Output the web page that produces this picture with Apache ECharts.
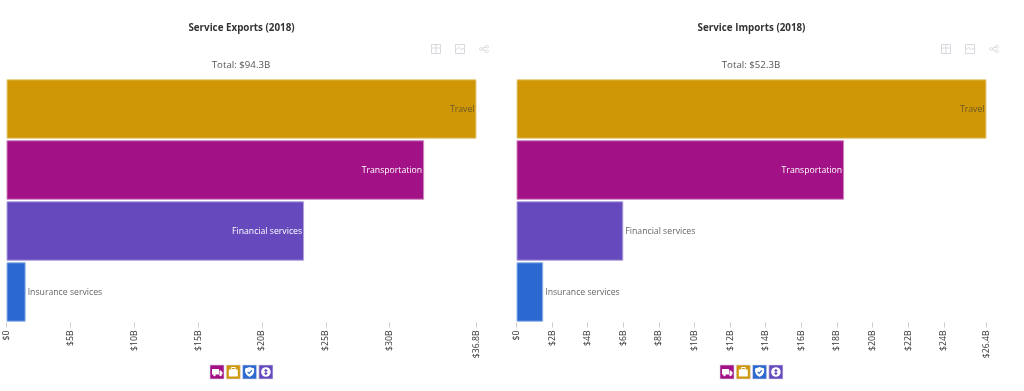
<!DOCTYPE html>
<html>
<head>
<meta charset="utf-8">
<title>Service Exports and Imports (2018)</title>
<script src="https://cdn.jsdelivr.net/npm/echarts@6/dist/echarts.min.js"></script>
<style>
    html, body { margin: 0; padding: 0; background: #fff; }
    .charts { width: 1024px; height: 391px; position: relative; overflow: hidden; }
    .chart { position: absolute; top: 0; width: 510px; height: 391px; }
</style>
</head>
<body>
<div class="charts">
    <div class="chart" id="exports" style="left: 0"></div>
    <div class="chart" id="imports" style="left: 510px"></div>
</div>
<script>
const categories = ['Travel', 'Transportation', 'Financial services', 'Insurance services'];
const barColors = ['#cf9605', '#a21185', '#6549bd', '#2b68cf'];
const barBorders = ['#e6cd85', '#cf86c0', '#b2a4de', '#93b3e7'];

const exportValues = [36.8, 32.7, 23.3, 1.5];
const importValues = [26.4, 18.4, 6.0, 1.5];
const exportTicks = [0, 5, 10, 15, 20, 25, 30, 36.8];
const importTicks = [0, 2, 4, 6, 8, 10, 12, 14, 16, 18, 20, 22, 24, 26.4];

const fontName = '"Open Sans", sans-serif';

// legend squares, same order as the original: truck, briefcase, shield, dollar
const legendColors = ['#a21185', '#cf9605', '#2b68cf', '#6549bd'];

function glyph(i, color) {
    const white = { fill: '#fff' };
    if (i === 0) {
        return [
            { type: 'rect', shape: { x: 2, y: 4, width: 7, height: 5.5 }, style: white },
            { type: 'polygon', shape: { points: [[9.5, 5.5], [11, 5.5], [12.5, 7.5], [12.5, 9.5], [9.5, 9.5]] }, style: white },
            { type: 'circle', shape: { cx: 4.5, cy: 10, r: 1.2 }, style: white },
            { type: 'circle', shape: { cx: 10.5, cy: 10, r: 1.2 }, style: white }
        ];
    }
    if (i === 1) {
        return [
            { type: 'rect', shape: { x: 5, y: 2.5, width: 4, height: 2 }, style: { fill: 'none', stroke: '#fff', lineWidth: 1 } },
            { type: 'rect', shape: { x: 2.5, y: 4.5, width: 9, height: 7 }, style: white }
        ];
    }
    if (i === 2) {
        return [{
            type: 'polygon',
            shape: { points: [[7, 2], [11.5, 3.5], [11.5, 7], [10, 10], [7, 12], [4, 10], [2.5, 7], [2.5, 3.5]] },
            style: white
        }, {
            type: 'polyline',
            shape: { points: [[5, 6.8], [6.6, 8.4], [9.2, 5.4]] },
            style: { fill: 'none', stroke: color, lineWidth: 1.2 }
        }];
    }
    return [
        { type: 'circle', shape: { cx: 7, cy: 7, r: 4.8 }, style: white },
        { type: 'rect', shape: { x: 5.5, y: 5, width: 3, height: 1.2 }, style: { fill: color } },
        { type: 'rect', shape: { x: 5.5, y: 7.8, width: 3, height: 1.2 }, style: { fill: color } },
        { type: 'rect', shape: { x: 6.4, y: 4, width: 1.2, height: 6 }, style: { fill: color } }
    ];
}

function legendIcons() {
    return legendColors.map((color, i) => ({
        type: 'group',
        x: 210 + i * 16.3,
        y: 365,
        children: [
            { type: 'rect', shape: { x: 0, y: 0, width: 14, height: 14 }, style: { fill: color, stroke: '#dcd6ea', lineWidth: 0.6 } }
        ].concat(glyph(i, color))
    }));
}

function drawChart(id, title, total, values, ticks) {
    const max = ticks[ticks.length - 1];
    const chart = echarts.init(document.getElementById(id));
    chart.setOption({
        animation: false,
        textStyle: { fontFamily: fontName },
        title: [
            { text: title, left: 241.5, top: 23, padding: 0, textAlign: 'center', textStyle: { fontFamily: fontName, fontSize: 9.8, fontWeight: 'bold', color: '#333' } },
            { text: total, left: 241, top: 60, padding: 0, textAlign: 'center', textStyle: { fontFamily: fontName, fontSize: 9.7, fontWeight: 'normal', color: '#555' } }
        ],
        toolbox: {
            right: 4,
            top: 27,
            itemSize: 9,
            itemGap: 10,
            iconStyle: { borderColor: '#d6d9dd', color: 'none', borderWidth: 1 },
            feature: {
                myTable: { show: true, title: '', icon: 'path://M1 1H19V19H1ZM1 8H19M10 1V19', onclick() {} },
                myImage: { show: true, title: '', icon: 'path://M1 1H19V19H1ZM1 12L7 7L13 11L19 8', onclick() {} },
                myShare: { show: true, title: '', icon: 'path://M16 3A2.5 2.5 0 1 0 16 7.5A2.5 2.5 0 1 0 16 3ZM4 8A2.5 2.5 0 1 0 4 12.5A2.5 2.5 0 1 0 4 8ZM16 13A2.5 2.5 0 1 0 16 17.5A2.5 2.5 0 1 0 16 13ZM6 9L14 6M6 11L14 14', onclick() {} }
            }
        },
        grid: { left: 6.5, width: 470, top: 78.5, height: 244 },
        xAxis: {
            type: 'value',
            min: 0,
            max: max,
            splitLine: { show: false },
            axisLine: { show: false },
            axisTick: { show: true, length: 5, customValues: ticks, lineStyle: { color: '#ccc' } },
            axisLabel: {
                rotate: 90,
                margin: 8,
                fontSize: 8.7,
                color: '#333',
                customValues: ticks,
                formatter: v => (v === 0 ? '$0' : '$' + v + 'B')
            }
        },
        yAxis: {
            type: 'category',
            inverse: true,
            data: categories,
            axisLine: { show: false },
            axisTick: { show: false },
            axisLabel: { show: false }
        },
        series: [{
            type: 'bar',
            barCategoryGap: '2.5%',
            data: values.map((v, i) => {
                const inside = v / max > 0.5;
                return {
                    value: v,
                    itemStyle: { color: barColors[i], borderColor: barBorders[i], borderWidth: 1 },
                    label: {
                        show: true,
                        formatter: categories[i],
                        position: inside ? 'insideRight' : 'right',
                        distance: 2,
                        offset: [0, 1],
                        fontSize: 8.7,
                        color: i === 0 ? '#6b5a2a' : (inside ? '#fff' : '#666')
                    }
                };
            })
        }],
        graphic: legendIcons()
    });
}

drawChart('exports', 'Service Exports (2018)', 'Total: $94.3B', exportValues, exportTicks);
drawChart('imports', 'Service Imports (2018)', 'Total: $52.3B', importValues, importTicks);
</script>
</body>
</html>
